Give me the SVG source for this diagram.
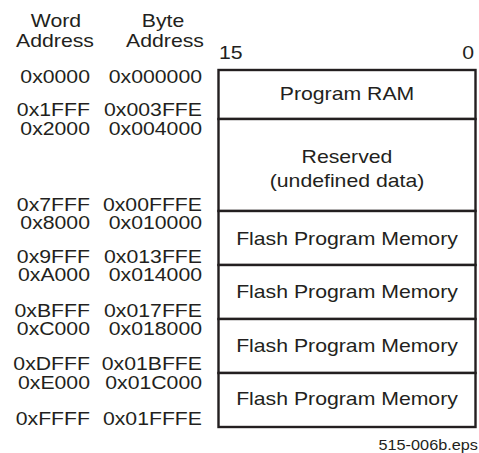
<svg xmlns="http://www.w3.org/2000/svg" width="479" height="453" viewBox="0 0 479 453">
<style>
text{font-family:"Liberation Sans",Arial,sans-serif;font-size:18px;fill:#231f20}
.m{text-anchor:middle}
.e{text-anchor:end}
.s{font-size:13.8px}
.box{fill:#fff;stroke:#231f20;stroke-width:2.4}
</style>
<rect width="479" height="453" fill="#fff"/>
<g id="regions">
<g id="program-ram"><rect class="box" x="218.5" y="70" width="257" height="49"/></g>
<g id="reserved"><rect class="box" x="218.5" y="119" width="257" height="92"/></g>
<g id="flash-1"><rect class="box" x="218.5" y="211" width="257" height="54"/></g>
<g id="flash-2"><rect class="box" x="218.5" y="265" width="257" height="54"/></g>
<g id="flash-3"><rect class="box" x="218.5" y="319" width="257" height="54"/></g>
<g id="flash-4"><rect class="box" x="218.5" y="373" width="257" height="54"/></g>
</g>
<g transform="scale(1.18 1)">
<g id="headers">
<text class="m" x="47.46" y="27">Word</text>
<text class="m" x="46.61" y="47">Address</text>
<text class="m" x="138.14" y="27">Byte</text>
<text class="m" x="139.83" y="47">Address</text>
<text x="185.59" y="59">15</text>
<text class="e" x="401.69" y="59">0</text>
</g>
<g id="word-addresses" class="e">
<text class="e" x="76.27" y="83">0x0000</text>
<text class="e" x="76.27" y="116">0x1FFF</text>
<text class="e" x="76.27" y="135">0x2000</text>
<text class="e" x="76.27" y="210.7">0x7FFF</text>
<text class="e" x="76.27" y="229.3">0x8000</text>
<text class="e" x="76.27" y="262.7">0x9FFF</text>
<text class="e" x="76.27" y="280.7">0xA000</text>
<text class="e" x="76.27" y="316.7">0xBFFF</text>
<text class="e" x="76.27" y="335">0xC000</text>
<text class="e" x="76.27" y="370">0xDFFF</text>
<text class="e" x="76.27" y="389.3">0xE000</text>
<text class="e" x="76.27" y="425">0xFFFF</text>
</g>
<g id="byte-addresses">
<text class="e" x="171.19" y="83">0x000000</text>
<text class="e" x="171.19" y="116">0x003FFE</text>
<text class="e" x="171.19" y="135">0x004000</text>
<text class="e" x="171.19" y="210.7">0x00FFFE</text>
<text class="e" x="171.19" y="229.3">0x010000</text>
<text class="e" x="171.19" y="262.7">0x013FFE</text>
<text class="e" x="171.19" y="280.7">0x014000</text>
<text class="e" x="171.19" y="316.7">0x017FFE</text>
<text class="e" x="171.19" y="335">0x018000</text>
<text class="e" x="171.19" y="370">0x01BFFE</text>
<text class="e" x="171.19" y="389.3">0x01C000</text>
<text class="e" x="171.19" y="425">0x01FFFE</text>
</g>
<g id="labels">
<text class="m" x="294.07" y="100">Program RAM</text>
<text class="m" x="294.07" y="163.3">Reserved</text>
<text class="m" x="294.07" y="186.7">(undefined data)</text>
<text class="m" x="294.07" y="245">Flash Program Memory</text>
<text class="m" x="294.07" y="298.5">Flash Program Memory</text>
<text class="m" x="294.07" y="352">Flash Program Memory</text>
<text class="m" x="294.07" y="405.5">Flash Program Memory</text>
</g>
<text class="e s" x="405.08" y="450">515-006b.eps</text>
</g>
</svg>
